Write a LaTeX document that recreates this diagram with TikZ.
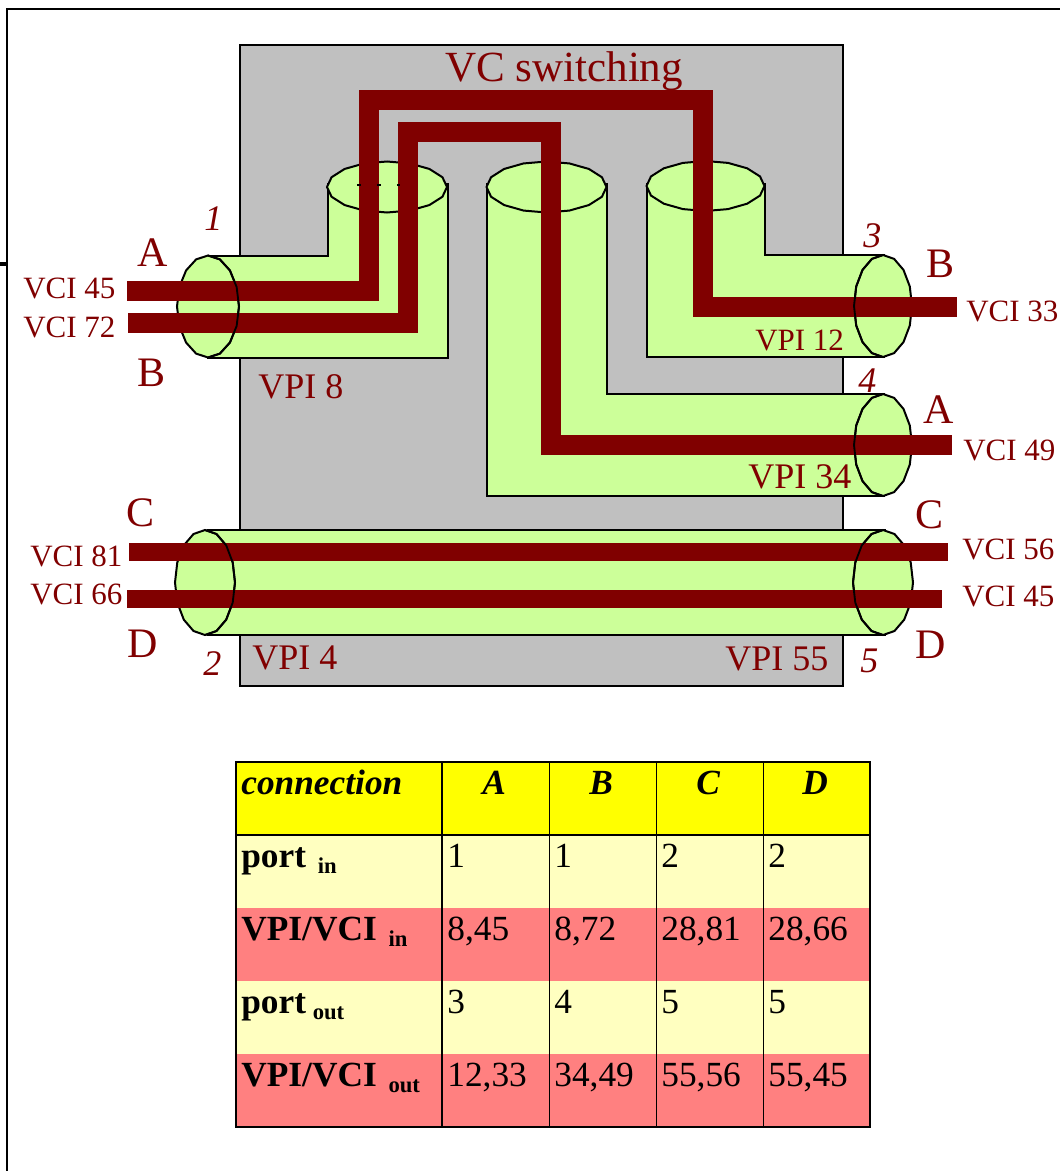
\documentclass[tikz,border=0pt]{standalone}
\usepackage{fontspec}
\setmainfont{Liberation Serif}
\usetikzlibrary{positioning}
\definecolor{wirered}{HTML}{800000}
\definecolor{tubegreen}{HTML}{CCFF99}
\definecolor{boxgray}{HTML}{C0C0C0}
\definecolor{headyellow}{HTML}{FFFF00}
\definecolor{rowyellow}{HTML}{FFFFC0}
\definecolor{rowpink}{HTML}{FF8080}
\newcommand{\subtxt}[1]{\raisebox{-4.5pt}{\fontsize{17}{17}\selectfont\bfseries #1}}
\newcommand{\tubemouth}[4]{\draw[tube] plot[samples=17,domain=0:360] ({#1+#3*cos(\x)},{#2+#4*sin(\x)}) -- cycle;}
\newcommand{\mouthedge}[6]{\draw[line width=1.4pt,line join=round] plot[samples=9,domain=#5:#6] ({#1+#3*cos(\x)},{#2+#4*sin(\x)});}

\begin{document}
\begin{tikzpicture}[
    x=0.75pt,y=-0.75pt,
    tube/.style={draw,fill=tubegreen,line width=1.5pt,line join=miter},
    wire/.style={draw=wirered,line width=15pt,line join=miter},
    thin wire/.style={draw=wirered,line width=13pt},
    end label/.style={anchor=base west,inner sep=0pt,text=wirered,font=\fontsize{31.5}{34}\selectfont},
    vci label/.style={anchor=base west,inner sep=0pt,text=wirered,font=\fontsize{23.25}{26}\selectfont},
    vpi label/.style={anchor=base west,inner sep=0pt,text=wirered,font=\fontsize{27}{30}\selectfont},
    port label/.style={anchor=base west,inner sep=0pt,text=wirered,font=\fontsize{27}{30}\selectfont\itshape},
    cell/.style={anchor=north west,outer sep=0pt,inner xsep=4pt,inner ysep=0pt,align=left,
      text height=24.5pt,text depth=30.25pt,font=\fontsize{26.5}{30}\selectfont},
    name cell/.style={cell,text width=146.5pt,font=\fontsize{26.5}{30}\selectfont\bfseries},
    value cell/.style={cell,text width=72.25pt},
    head cell/.style={value cell,align=center,font=\fontsize{26.5}{30}\selectfont\bfseries\itshape}
  ]
    \useasboundingbox (0,0) rectangle (1060,1171);

    % Outer frame
    \draw[line width=1.5pt] (7,1171) -- (7,9) -- (1060,9);
    \draw[line width=3pt] (0,264) -- (7,264);

    % Switch body
    \fill[boxgray] (240,45) rectangle (843,686);
    \draw[line width=0.9pt] (240,45) rectangle (843,686);
    \node[anchor=base west,inner sep=0pt,text=wirered,font=\fontsize{32.25}{36}\selectfont] (title) at (445,81) {VC switching};

    % Tubes
    \draw[tube] (208,256) -- (328,256) -- (328,184) -- (447.5,184) -- (447.5,358) -- (208,358) -- cycle;
    \draw[tube] (546,184) -- (607,184) -- (607,394) -- (884,394) -- (884,496) -- (487,496) -- (487,184) -- cycle;
    \draw[tube] (646.5,184) -- (764.5,184) -- (764.5,255) -- (884,255) -- (884,357) -- (646.5,357) -- cycle;
    \draw[tube] (208,530) -- (885,530) -- (885,635) -- (208,635) -- cycle;

    % Tube mouths
    \tubemouth{387}{187}{60}{25.5}
    \tubemouth{546.5}{187}{60}{25.5}
    \tubemouth{705.5}{186}{59}{25}
    \tubemouth{208}{306.5}{31}{51}
    \tubemouth{883}{306}{29}{51}
    \tubemouth{883}{445}{29}{51}
    \tubemouth{205}{582.5}{30}{52.5}
    \tubemouth{883}{582.5}{30}{52.5}

    % Wire end points
    \coordinate (A in) at (127,291);
    \coordinate (A top) at (368.5,100);
    \coordinate (A drop) at (703,306.5);
    \coordinate (A out) at (957,306.5);
    \coordinate (B in) at (128,323);
    \coordinate (B top) at (408,131.7);
    \coordinate (B drop) at (550.5,444.7);
    \coordinate (B out) at (952,444.7);
    \coordinate (C in) at (129,552);
    \coordinate (C out) at (948,552);
    \coordinate (D in) at (127,599);
    \coordinate (D out) at (942,599);

    % Wires
    \draw[wire] (A in) -| (A top) -| (A drop) -- (A out);
    \draw[wire] (B in) -| (B top) -| (B drop) -- (B out);
    \draw[thin wire] (C in) -- (C out);
    \draw[thin wire] (D in) -- (D out);

    % Inner edges of the port mouths stay on top of the wires
    \mouthedge{208}{306.5}{31}{51}{-90}{90}
    \mouthedge{883}{306}{29}{51}{90}{270}
    \mouthedge{883}{445}{29}{51}{90}{270}
    \mouthedge{205}{582.5}{30}{52.5}{-90}{90}
    \mouthedge{883}{582.5}{30}{52.5}{90}{270}

    % Marks left inside the first mouth
    \draw[line width=1.5pt,dash pattern=on 3pt off 12pt] (357,185) -- (400,185);

    % Left side labels
    \node[end label] (left A) at (137,266) {A};
    \node[end label] (left B) at (137,386) {B};
    \node[end label] (left C) at (126,526) {C};
    \node[end label] (left D) at (127,657) {D};
    \node[port label] (port 1) at (204,230) {1};
    \node[port label] (port 2) at (203,675) {2};
    \node[vci label] (vci 45 in) at (23,298) {VCI 45};
    \node[vci label] (vci 72 in) at (23,337) {VCI 72};
    \node[vci label] (vci 81 in) at (30,566) {VCI 81};
    \node[vci label] (vci 66 in) at (30,604) {VCI 66};
    \node[vpi label] (vpi 8) at (258,398) {VPI 8};
    \node[vpi label] (vpi 4) at (252,669) {VPI 4};

    % Right side labels
    \node[end label] (right B) at (926,277) {B};
    \node[end label] (right A) at (923,423) {A};
    \node[end label] (right C) at (915,528) {C};
    \node[end label] (right D) at (915,658) {D};
    \node[port label] (port 3) at (863,247) {3};
    \node[port label] (port 4) at (858,392) {4};
    \node[port label] (port 5) at (860,672) {5};
    \node[vci label] (vci 33 out) at (966,321) {VCI 33};
    \node[vci label] (vci 49 out) at (963,460) {VCI 49};
    \node[vci label] (vci 56 out) at (962,559) {VCI 56};
    \node[vci label] (vci 45 out) at (962,606) {VCI 45};
    \node[vci label] (vpi 12) at (755,350) {VPI 12};
    \node[vpi label] (vpi 34) at (748,488) {VPI 34};
    \node[vpi label] (vpi 55) at (725,670) {VPI 55};

    % Table rows
    \begin{scope}[node distance=0pt]
      \node[name cell,fill=headyellow,font=\fontsize{26.5}{30}\selectfont\bfseries\itshape] (h0) at (236,762) {connection};
      \node[head cell,fill=headyellow,right=of h0.north east,anchor=north west] (h1) {\hspace*{-2pt}A};
      \node[head cell,fill=headyellow,right=of h1.north east,anchor=north west] (h2) {\hspace*{-2pt}B};
      \node[head cell,fill=headyellow,right=of h2.north east,anchor=north west] (h3) {\hspace*{-2pt}C};
      \node[head cell,fill=headyellow,right=of h3.north east,anchor=north west] (h4) {\hspace*{-2pt}D};

      \node[name cell,fill=rowyellow,below=of h0.south west,anchor=north west] (a0) {port \subtxt{in}};
      \node[value cell,fill=rowyellow,right=of a0.north east,anchor=north west] (a1) {1};
      \node[value cell,fill=rowyellow,right=of a1.north east,anchor=north west] (a2) {1};
      \node[value cell,fill=rowyellow,right=of a2.north east,anchor=north west] (a3) {2};
      \node[value cell,fill=rowyellow,right=of a3.north east,anchor=north west] (a4) {2};

      \node[name cell,fill=rowpink,below=of a0.south west,anchor=north west] (b0) {VPI/VCI \subtxt{in}};
      \node[value cell,fill=rowpink,right=of b0.north east,anchor=north west] (b1) {8,45};
      \node[value cell,fill=rowpink,right=of b1.north east,anchor=north west] (b2) {8,72};
      \node[value cell,fill=rowpink,right=of b2.north east,anchor=north west] (b3) {28,81};
      \node[value cell,fill=rowpink,right=of b3.north east,anchor=north west] (b4) {28,66};

      \node[name cell,fill=rowyellow,below=of b0.south west,anchor=north west] (c0) {port\hspace{5pt}\subtxt{out}};
      \node[value cell,fill=rowyellow,right=of c0.north east,anchor=north west] (c1) {3};
      \node[value cell,fill=rowyellow,right=of c1.north east,anchor=north west] (c2) {4};
      \node[value cell,fill=rowyellow,right=of c2.north east,anchor=north west] (c3) {5};
      \node[value cell,fill=rowyellow,right=of c3.north east,anchor=north west] (c4) {5};

      \node[name cell,fill=rowpink,below=of c0.south west,anchor=north west] (d0) {VPI/VCI \subtxt{out}};
      \node[value cell,fill=rowpink,right=of d0.north east,anchor=north west] (d1) {12,33};
      \node[value cell,fill=rowpink,right=of d1.north east,anchor=north west] (d2) {34,49};
      \node[value cell,fill=rowpink,right=of d2.north east,anchor=north west] (d3) {55,56};
      \node[value cell,fill=rowpink,right=of d3.north east,anchor=north west] (d4) {55,45};
    \end{scope}

    % Table lines
    \draw[line width=1.1pt] (h0.north west) rectangle (d4.south east);
    \draw[line width=1.1pt] (h0.south west) -- (h4.south east);
    \draw[line width=1.3pt] (h0.north east) -- (d0.south east);
    \draw[line width=0.7pt] (h1.north east) -- (d1.south east);
    \draw[line width=0.7pt] (h2.north east) -- (d2.south east);
    \draw[line width=0.7pt] (h3.north east) -- (d3.south east);
  \end{tikzpicture}
\end{document}
